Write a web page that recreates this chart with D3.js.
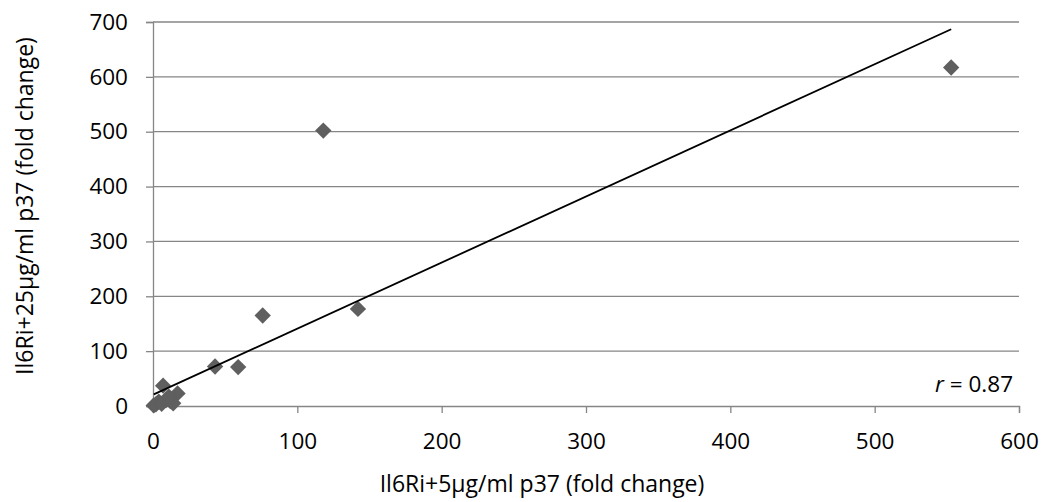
<!DOCTYPE html>
<html>
<head>
<meta charset="utf-8">
<script src="https://cdn.jsdelivr.net/npm/d3@7"></script>
<style>
  html, body { margin: 0; padding: 0; background: #fff; }
  svg text { font-family: "Open Sans", "Liberation Sans", sans-serif; fill: #000; }
</style>
</head>
<body>
<svg id="chart" width="1043" height="502"></svg>
<script>
// ---- data ----
const xValues = [553, 118, 76, 142, 43, 59, 7, 17, 14, 0.5, 2, 4, 6, 9, 12, 11];
const yValues = [617, 502, 165, 177, 72, 71, 37, 23, 5, 1, 3, 8, 4, 11, 9, 17];
const xTicks = [0, 100, 200, 300, 400, 500, 600];
const yTicks = [0, 100, 200, 300, 400, 500, 600, 700];
const trendSlope = [1.205];
const trendIntercept = [20.5];
const xTitle = "Il6Ri+5µg/ml p37 (fold change)";
const yTitle = "Il6Ri+25µg/ml p37 (fold change)";
const rLabel = ["r", " = 0.87"];

// ---- layout ----
const W = 1043, H = 502;
const plot = { left: 153, right: 1019, top: 22, bottom: 406 };
const fontSize = 22.5;
const titleSize = 23;
const gridColor = "#868686";
const markerColor = "#5f5f5f";

const svg = d3.select("#chart");
svg.append("rect").attr("width", W).attr("height", H).attr("fill", "#fff");

const x = d3.scaleLinear().domain([0, 600]).range([plot.left, plot.right]);
const y = d3.scaleLinear().domain([0, 700]).range([plot.bottom, plot.top]);

// gridlines
svg.append("g").selectAll("line")
  .data(yTicks.filter(d => d > 0))
  .join("line")
  .attr("x1", plot.left).attr("x2", plot.right)
  .attr("y1", d => y(d)).attr("y2", d => y(d))
  .attr("stroke", gridColor).attr("stroke-width", 1.3);

// y axis
const yAxis = svg.append("g")
  .attr("transform", `translate(${plot.left},0)`)
  .call(d3.axisLeft(y).tickValues(yTicks).tickSize(7).tickPadding(18).tickFormat(d3.format("d")));
// x axis
const xAxis = svg.append("g")
  .attr("transform", `translate(0,${plot.bottom})`)
  .call(d3.axisBottom(x).tickValues(xTicks).tickSize(7).tickPadding(20).tickFormat(d3.format("d")));

[yAxis, xAxis].forEach(g => {
  g.select(".domain").attr("stroke", gridColor).attr("stroke-width", 1.3);
  g.selectAll(".tick line").attr("stroke", gridColor).attr("stroke-width", 1.3);
  g.selectAll(".tick text").attr("font-size", fontSize).attr("fill", "#000")
    .style("font-family", '"Open Sans", sans-serif');
});

// markers
const data = xValues.map((v, i) => ({ x: v, y: yValues[i] }));
const diamond = d3.symbol().type(d3.symbolDiamond2).size(170);
svg.append("g").selectAll("path")
  .data(data)
  .join("path")
  .attr("d", diamond)
  .attr("transform", d => `translate(${x(d.x)},${y(d.y)})`)
  .attr("fill", markerColor);

// trendline
const xMin = d3.min(xValues), xMax = d3.max(xValues);
const line = d3.line().x(d => x(d)).y(d => y(trendSlope[0] * d + trendIntercept[0]));
svg.append("path")
  .attr("d", line([xMin, xMax]))
  .attr("stroke", "#000").attr("stroke-width", 1.8).attr("fill", "none");

// r label
const rt = svg.append("text")
  .attr("x", 1013).attr("y", 392)
  .attr("text-anchor", "end")
  .attr("font-size", fontSize);
rt.append("tspan").attr("font-style", "italic").text(rLabel[0]);
rt.append("tspan").text(rLabel[1]);

// axis titles
svg.append("text")
  .attr("x", 542).attr("y", 492)
  .attr("text-anchor", "middle")
  .attr("font-size", titleSize)
  .text(xTitle);

svg.append("text")
  .attr("transform", `translate(33,206) rotate(-90)`)
  .attr("text-anchor", "middle")
  .attr("font-size", titleSize)
  .text(yTitle);
</script>
</body>
</html>
